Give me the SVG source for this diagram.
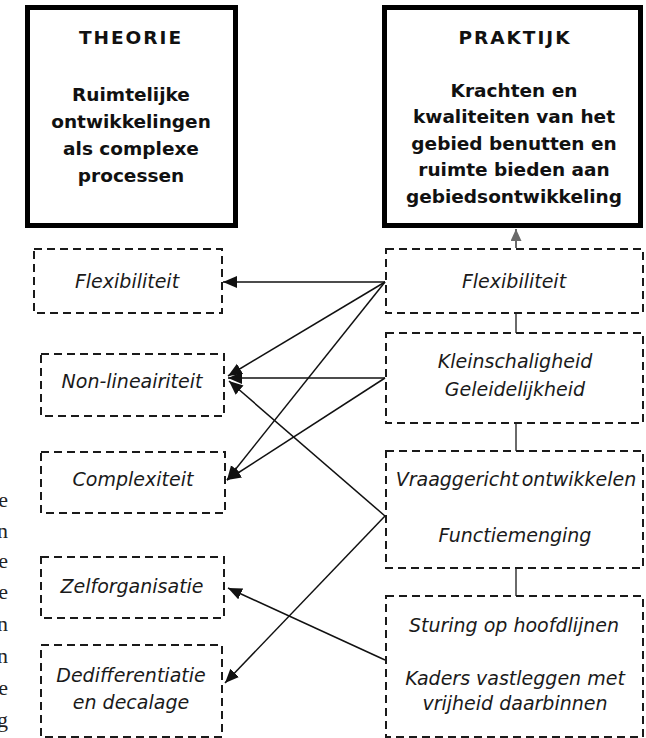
<svg xmlns="http://www.w3.org/2000/svg" width="646" height="738" viewBox="0 0 646 738">
  <style>
    .frame { fill: #fff; stroke: #000; stroke-width: 5; }
    .box { fill: #fff; stroke: #1a1a1a; stroke-width: 2; stroke-dasharray: 8 5; }
    .head { font-family: "DejaVu Sans", Verdana, sans-serif; font-weight: bold; font-size: 18.5px; fill: #111; text-anchor: middle; }
    .title { letter-spacing: 2px; }
    .item { font-family: "DejaVu Sans", Verdana, sans-serif; font-style: italic; font-size: 19px; fill: #1a1a1a; text-anchor: middle; }
    .tight { word-spacing: -3px; }
    .link { fill: none; stroke: #111; stroke-width: 1.5; }
    .chain { fill: none; stroke: #6a6a6a; stroke-width: 2; }
    .margin { font-family: "Liberation Serif", "Times New Roman", serif; font-size: 22px; fill: #222; text-anchor: end; }
  </style>
  <defs>
    <marker id="arrow" markerUnits="userSpaceOnUse" markerWidth="16" markerHeight="13" refX="14" refY="6" orient="auto">
      <path d="M0,0 L14,6 L0,12 z" fill="#111"/>
    </marker>
    <marker id="arrowGray" markerUnits="userSpaceOnUse" markerWidth="14" markerHeight="12" refX="12" refY="5.5" orient="auto">
      <path d="M0,0 L12,5.5 L0,11 z" fill="#6a6a6a"/>
    </marker>
  </defs>

  <rect width="646" height="738" fill="#fff"/>

  <!-- clipped letters of neighbouring text column -->
  <g id="margin-text">
    <text class="margin" x="8" y="507">e</text>
    <text class="margin" x="8" y="538">n</text>
    <text class="margin" x="8" y="568">e</text>
    <text class="margin" x="8" y="599">e</text>
    <text class="margin" x="8" y="631">n</text>
    <text class="margin" x="8" y="663">n</text>
    <text class="margin" x="8" y="695">e</text>
    <text class="margin" x="8" y="727">g</text>
  </g>

  <!-- connectors -->
  <g id="connectors">
    <line class="chain" x1="516" y1="313" x2="516" y2="333"/>
    <line class="chain" x1="516" y1="423" x2="516" y2="451"/>
    <line class="chain" x1="516" y1="568" x2="516" y2="596"/>
    <line class="chain" x1="516" y1="248" x2="516" y2="229" marker-end="url(#arrowGray)"/>

    <line class="link" x1="385" y1="282" x2="223" y2="282" marker-end="url(#arrow)"/>
    <line class="link" x1="385" y1="282" x2="228" y2="376" marker-end="url(#arrow)"/>
    <line class="link" x1="385" y1="282" x2="227" y2="480" marker-end="url(#arrow)"/>
    <line class="link" x1="385" y1="378" x2="228" y2="378" marker-end="url(#arrow)"/>
    <line class="link" x1="385" y1="378" x2="227" y2="480" marker-end="url(#arrow)"/>
    <line class="link" x1="385" y1="516" x2="229" y2="381" marker-end="url(#arrow)"/>
    <line class="link" x1="385" y1="516" x2="225" y2="683" marker-end="url(#arrow)"/>
    <line class="link" x1="385" y1="660" x2="228" y2="588" marker-end="url(#arrow)"/>
  </g>

  <!-- theory column -->
  <g id="theorie">
    <rect class="frame" x="27.5" y="7.5" width="208" height="218"/>
    <text class="head title" x="131" y="44">THEORIE</text>
    <text class="head" x="131" y="101">Ruimtelijke</text>
    <text class="head" x="131" y="128">ontwikkelingen</text>
    <text class="head" x="131" y="155">als complexe</text>
    <text class="head" x="131" y="182">processen</text>
  </g>

  <g id="t-flexibiliteit">
    <rect class="box" x="34" y="249" width="188" height="64"/>
    <text class="item" x="127" y="288">Flexibiliteit</text>
  </g>
  <g id="t-non-lineairiteit">
    <rect class="box" x="41" y="354" width="183" height="62"/>
    <text class="item" x="132" y="388">Non-lineairiteit</text>
  </g>
  <g id="t-complexiteit">
    <rect class="box" x="41" y="452" width="184" height="61"/>
    <text class="item" x="133" y="486">Complexiteit</text>
  </g>
  <g id="t-zelforganisatie">
    <rect class="box" x="41" y="557" width="183" height="61"/>
    <text class="item" x="132" y="593">Zelforganisatie</text>
  </g>
  <g id="t-dedifferentiatie">
    <rect class="box" x="41" y="645" width="181" height="92"/>
    <text class="item" x="131" y="682">Dedifferentiatie</text>
    <text class="item" x="131" y="709">en decalage</text>
  </g>

  <!-- practice column -->
  <g id="praktijk">
    <rect class="frame" x="384.5" y="7.5" width="256" height="218"/>
    <text class="head title" x="515" y="44">PRAKTIJK</text>
    <text class="head" x="514" y="97">Krachten en</text>
    <text class="head" x="514" y="123">kwaliteiten van het</text>
    <text class="head" x="514" y="150">gebied benutten en</text>
    <text class="head" x="514" y="176">ruimte bieden aan</text>
    <text class="head" x="514" y="203">gebiedsontwikkeling</text>
  </g>

  <g id="p-flexibiliteit">
    <rect class="box" x="386" y="249" width="257" height="64"/>
    <text class="item" x="514" y="288">Flexibiliteit</text>
  </g>
  <g id="p-kleinschaligheid">
    <rect class="box" x="386" y="333" width="257" height="90"/>
    <text class="item" x="515" y="368">Kleinschaligheid</text>
    <text class="item" x="515" y="396">Geleidelijkheid</text>
  </g>
  <g id="p-vraaggericht">
    <rect class="box" x="386" y="451" width="257" height="117"/>
    <text class="item tight" x="516" y="486">Vraaggericht ontwikkelen</text>
    <text class="item" x="515" y="542">Functiemenging</text>
  </g>
  <g id="p-sturing">
    <rect class="box" x="386" y="596" width="257" height="141"/>
    <text class="item" x="514" y="632">Sturing op hoofdlijnen</text>
    <text class="item" x="515" y="685">Kaders vastleggen met</text>
    <text class="item" x="515" y="710">vrijheid daarbinnen</text>
  </g>
</svg>
